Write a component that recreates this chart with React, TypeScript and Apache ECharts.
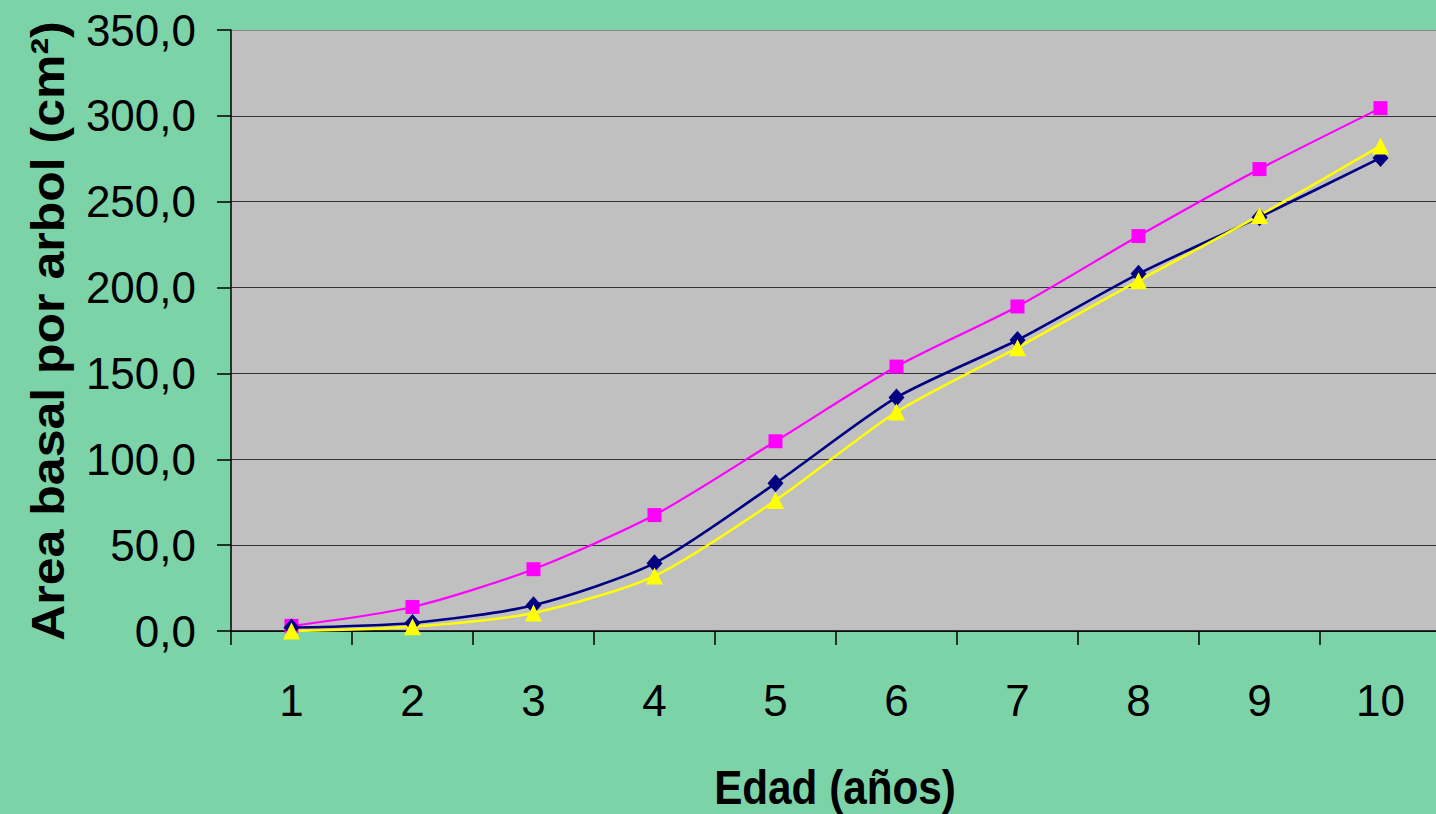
import React, { useEffect, useRef } from "react";
import * as echarts from "echarts";

const categories = ["1", "2", "3", "4", "5", "6", "7", "8", "9", "10"];
const pinkValues = [3, 14, 36, 67.5, 110.5, 154, 189, 230, 269, 304.5];
const navyValues = [2, 4.7, 15, 39.5, 86, 136, 169.5, 208, 241, 275.5];
const yellowValues = [0, 2.5, 10.5, 32, 76, 127.5, 165, 204, 242, 282.5];
const yMin = 0;
const yMax = 350;
const yStep = 50;

const FONT = "'Liberation Sans', Arial, sans-serif";

export default function App() {
  const ref = useRef<HTMLDivElement>(null);
  useEffect(() => {
    if (!ref.current) return;
    const chart = echarts.init(ref.current, undefined, { renderer: "svg" });
    const splitColors = ["#333", "#333", "#333", "#333", "#333", "#333", "#333", "#888"];
    chart.setOption({
      animation: false,
      backgroundColor: "#7dd3a8",
      grid: {
        left: 231,
        top: 30,
        right: 0,
        height: 601,
        show: true,
        backgroundColor: "#c0c0c0",
        borderWidth: 0,
      },
      xAxis: {
        type: "category",
        data: categories,
        boundaryGap: true,
        axisLine: { show: true, lineStyle: { color: "#000", width: 1.5 } },
        axisTick: { show: true, length: 14, inside: false, lineStyle: { color: "#000", width: 1.5 } },
        axisLabel: { color: "#000", fontSize: 44, fontFamily: FONT, margin: 47 },
        splitLine: { show: false },
      },
      yAxis: {
        type: "value",
        min: yMin,
        max: yMax,
        interval: yStep,
        axisLine: { show: true, lineStyle: { color: "#000", width: 1.5 } },
        axisTick: { show: true, length: 14, inside: false, lineStyle: { color: "#000", width: 1.5 } },
        axisLabel: {
          color: "#000",
          fontSize: 44,
          fontFamily: FONT,
          margin: 35,
          formatter: (v: number) => v.toFixed(1).replace(".", ","),
        },
        splitLine: { show: true, lineStyle: { color: splitColors, width: 1.2 } },
      },
      graphic: [
        {
          type: "text",
          x: 48,
          y: 331,
          rotation: Math.PI / 2,
          scaleY: 0.92,
          style: {
            text: "Area basal por arbol (cm²)",
            fontSize: 50,
            fontWeight: "bold",
            fontFamily: FONT,
            fill: "#000",
            align: "center",
            verticalAlign: "middle",
          },
        },
        {
          type: "text",
          x: 835,
          y: 788,
          scaleX: 0.88,
          style: {
            text: "Edad (años)",
            fontSize: 48,
            fontWeight: "bold",
            fontFamily: FONT,
            fill: "#000",
            align: "center",
            verticalAlign: "middle",
          },
        },
      ],
      series: [
        {
          type: "line",
          data: pinkValues,
          smooth: 0.25,
          symbol: "rect",
          symbolSize: 14,
          lineStyle: { color: "#ff00ff", width: 2.2 },
          itemStyle: { color: "#ff00ff" },
        },
        {
          type: "line",
          data: navyValues,
          smooth: 0.25,
          symbol: "diamond",
          symbolSize: [16, 18],
          lineStyle: { color: "#000080", width: 2.6 },
          itemStyle: { color: "#000080" },
        },
        {
          type: "line",
          data: yellowValues,
          smooth: 0.25,
          symbol: "triangle",
          symbolSize: [17, 17],
          lineStyle: { color: "#ffff00", width: 2.5 },
          itemStyle: { color: "#ffff00" },
        },
      ],
    });
    return () => chart.dispose();
  }, []);
  return (
    <div
      ref={ref}
      style={{ position: "fixed", left: 0, top: 0, width: 1441, height: 814 }}
    />
  );
}
